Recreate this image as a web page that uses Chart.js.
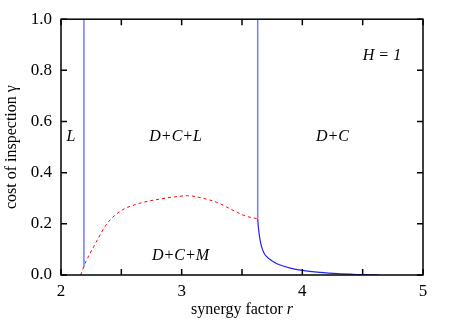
<!DOCTYPE html>
<html>
<head>
<meta charset="utf-8">
<script src="https://cdn.jsdelivr.net/npm/chart.js@4"></script>
<style>
  html, body { margin: 0; padding: 0; background: #fff; }
  #wrap { width: 463px; height: 328px; position: relative; }
</style>
</head>
<body>
<div id="wrap"><canvas id="c"></canvas></div>
<script>
// phase boundaries
var leftLineR = [2.19, 2.19];
var leftLineG = [0.03, 1.0];

var rightLineR = [3.63, 3.63];
var rightLineG = [1.0, 0.22];

var blueCurveR = [3.63, 3.635, 3.645, 3.66, 3.68, 3.70, 3.75, 3.81, 3.90, 4.0, 4.15, 4.29, 4.45, 4.64];
var blueCurveG = [0.22, 0.19, 0.15, 0.115, 0.088, 0.074, 0.055, 0.04, 0.027, 0.018, 0.01, 0.005, 0.002, 0.0];

var redR = [2.163, 2.2, 2.27, 2.30, 2.38, 2.50, 2.65, 2.82, 2.95, 3.05, 3.15, 3.29, 3.46, 3.54, 3.63];
var redG = [0.0, 0.046, 0.11, 0.136, 0.2, 0.252, 0.28, 0.297, 0.306, 0.31, 0.303, 0.284, 0.245, 0.229, 0.22];

var xTicks = [2, 3, 4, 5];
var xMinorTicks = [2, 2.5, 3, 3.5, 4, 4.5, 5];
var yTicks = [0, 0.2, 0.4, 0.6, 0.8, 1.0];

// region labels
var regionLabels = ['L', 'D+C+L', 'D+C', 'D+C+M', 'H = 1'];
var regionR = [2.083, 2.95, 4.25, 2.99, 4.66];
var regionG = [0.54, 0.54, 0.54, 0.075, 0.855];

function pts(xs, ys) {
    return xs.map(function (x, i) { return { x: x, y: ys[i] }; });
}

var serif = "'Liberation Serif', 'DejaVu Serif', serif";

// ticks nach innen, rahmen, texte
var extras = {
    id: 'extras',
    afterDraw: function (chart) {
        var ctx = chart.ctx;
        var a = chart.chartArea;
        var xs = chart.scales.x, ys = chart.scales.y;
        ctx.save();
        ctx.strokeStyle = '#000';
        ctx.lineWidth = 1.5;
        ctx.beginPath();
        xMinorTicks.forEach(function (v) {
            var px = xs.getPixelForValue(v);
            ctx.moveTo(px, a.bottom); ctx.lineTo(px, a.bottom - 6);
            ctx.moveTo(px, a.top); ctx.lineTo(px, a.top + 6);
        });
        yTicks.forEach(function (v) {
            var py = ys.getPixelForValue(v);
            ctx.moveTo(a.left, py); ctx.lineTo(a.left + 6, py);
            ctx.moveTo(a.right, py); ctx.lineTo(a.right - 6, py);
        });
        ctx.stroke();
        ctx.strokeRect(a.left, a.top, a.right - a.left, a.bottom - a.top);

        ctx.fillStyle = '#000';
        ctx.textAlign = 'center';
        ctx.textBaseline = 'middle';
        ctx.font = 'italic 16px ' + serif;
        regionLabels.forEach(function (t, i) {
            ctx.fillText(t, xs.getPixelForValue(regionR[i]), ys.getPixelForValue(regionG[i]));
        });

        // x-achse titel: "synergy factor r"
        ctx.font = '16px ' + serif;
        var t1 = 'synergy factor ';
        var w1 = ctx.measureText(t1).width;
        ctx.font = 'italic 16px ' + serif;
        var w2 = ctx.measureText('r').width;
        var x0 = (a.left + a.right) / 2 - (w1 + w2) / 2;
        ctx.textAlign = 'left';
        ctx.font = '16px ' + serif;
        ctx.fillText(t1, x0, 310);
        ctx.font = 'italic 16px ' + serif;
        ctx.fillText('r', x0 + w1, 310);

        // y-achse titel
        ctx.translate(12, (a.top + a.bottom) / 2);
        ctx.rotate(-Math.PI / 2);
        ctx.textAlign = 'center';
        ctx.font = '16px ' + serif;
        ctx.fillText('cost of inspection \u03b3', 0, 0);
        ctx.restore();
    }
};

var chart = new Chart(document.getElementById('c'), {
    type: 'scatter',
    data: {
        datasets: [
            { data: pts(leftLineR, leftLineG), showLine: true, borderColor: '#7777ff', borderWidth: 1.5, pointRadius: 0 },
            { data: pts(rightLineR, rightLineG), showLine: true, borderColor: '#7777ff', borderWidth: 1.5, pointRadius: 0 },
            { data: pts(blueCurveR, blueCurveG), showLine: true, borderColor: '#2222ff', borderWidth: 1.2, pointRadius: 0, cubicInterpolationMode: 'monotone' },
            { data: pts(redR, redG), showLine: true, borderColor: '#ff0000', borderWidth: 1, borderDash: [3, 3], pointRadius: 0, cubicInterpolationMode: 'monotone' }
        ]
    },
    options: {
        responsive: true,
        maintainAspectRatio: false,
        animation: false,
        events: [],
        layout: { padding: { left: 0, right: 40, top: 17, bottom: 0 } },
        plugins: { legend: { display: false }, tooltip: { enabled: false } },
        scales: {
            x: {
                type: 'linear', min: 2, max: 5,
                afterBuildTicks: function (s) { s.ticks = xTicks.map(function (v) { return { value: v }; }); },
                afterFit: function (s) { s.height = 53; },
                grid: { display: false, drawTicks: false },
                border: { display: false },
                ticks: { color: '#000', padding: 6, font: { family: serif, size: 17 }, maxRotation: 0 }
            },
            y: {
                type: 'linear', min: 0, max: 1,
                afterBuildTicks: function (s) { s.ticks = yTicks.map(function (v) { return { value: v }; }); },
                afterFit: function (s) { s.width = 61; },
                grid: { display: false, drawTicks: false },
                border: { display: false },
                ticks: { color: '#000', padding: 9, font: { family: serif, size: 17 },
                    callback: function (v) { return Number(v).toFixed(1); } }
            }
        }
    },
    plugins: [extras]
});
</script>
</body>
</html>
